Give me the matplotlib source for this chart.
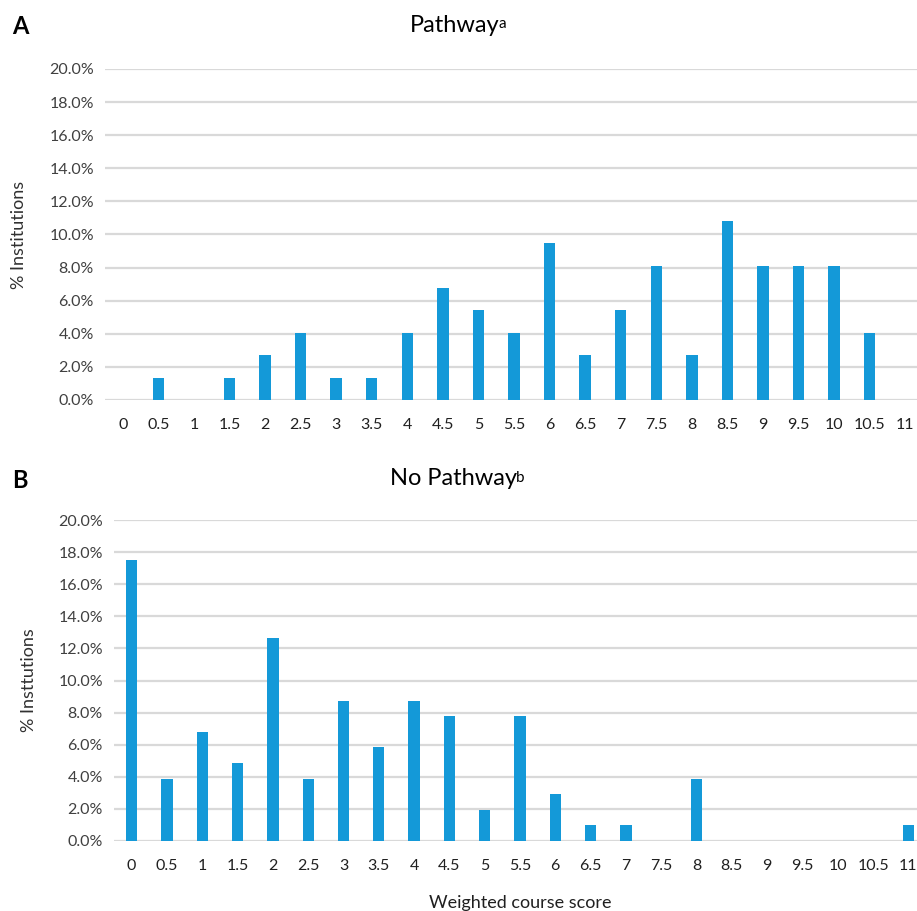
import matplotlib
matplotlib.use("Agg")
import matplotlib.pyplot as plt
import numpy as np

plt.rcParams['font.family'] = ['Lato', 'DejaVu Sans']

categories = ["0", "0.5", "1", "1.5", "2", "2.5", "3", "3.5", "4", "4.5", "5", "5.5",
              "6", "6.5", "7", "7.5", "8", "8.5", "9", "9.5", "10", "10.5", "11"]
pathway = [0, 1.35, 0, 1.35, 2.70, 4.05, 1.35, 1.35, 4.05, 6.76, 5.41, 4.05,
           9.46, 2.70, 5.41, 8.11, 2.70, 10.81, 8.11, 8.11, 8.11, 4.05, 0]
no_pathway = [17.48, 3.88, 6.80, 4.85, 12.62, 3.88, 8.74, 5.83, 8.74, 7.77, 1.94, 7.77,
              2.91, 0.97, 0.97, 0, 3.88, 0, 0, 0, 0, 0, 0.97]
yticks = [0, 2, 4, 6, 8, 10, 12, 14, 16, 18, 20]

color = "#1499D8"
grid_color = "#D9D9D9"

fig = plt.figure(figsize=(9.17, 9.11), dpi=100)
ax1 = fig.add_axes([105/917, (911-400)/911, (923-105)/917, (400-69)/911])
ax2 = fig.add_axes([114/917, (911-841)/911, (926-114)/917, (841-520)/911])

def style(ax, values, ylabel):
    x = np.arange(len(categories))
    ax.set_axisbelow(True)
    ax.bar(x, values, width=0.32, color=color, zorder=3)
    ax.set_xlim(-0.5, len(categories) - 0.5)
    ax.set_ylim(0, 20)
    ax.set_yticks(yticks)
    ax.set_yticklabels([f"{v:.1f}%" for v in yticks], fontsize=11.5, color="#404040")
    ax.set_xticks(x)
    ax.set_xticklabels(categories, fontsize=11.5, color="#202020")
    ax.tick_params(length=0, pad=8)
    ax.tick_params(axis='x', pad=13)
    ax.grid(axis='y', color=grid_color, linewidth=1.6, zorder=0)
    for s in ax.spines.values():
        s.set_visible(False)
    ax.set_ylabel(ylabel, fontsize=13, color="#303030")

style(ax1, pathway, "% Institutions")
style(ax2, no_pathway, "% Insttutions")
ax1.yaxis.set_label_coords(-0.095, 0.5)
ax2.yaxis.set_label_coords(-0.095, 0.5)
ax2.set_xlabel("Weighted course score", fontsize=13, color="#202020", labelpad=16)

def sup(t, s):
    fig.canvas.draw()
    bb = t.get_window_extent()
    fig.text((bb.x1 - 1) / fig.bbox.width, (bb.y1 - 3) / fig.bbox.height, s,
             ha='left', va='top', fontsize=11)

t1 = fig.text(455/917, 1 - 25/911, "Pathway", ha='center', va='center', fontsize=17)
sup(t1, "a")
t2 = fig.text(453/917, 1 - 478/911, "No Pathway", ha='center', va='center', fontsize=17)
sup(t2, "b")
fig.text(12/917, 1 - 27/911, "A", ha='left', va='center', fontsize=17, fontweight='bold')
fig.text(12/917, 1 - 480/911, "B", ha='left', va='center', fontsize=17, fontweight='bold')

fig.savefig("out.png", dpi=100)
